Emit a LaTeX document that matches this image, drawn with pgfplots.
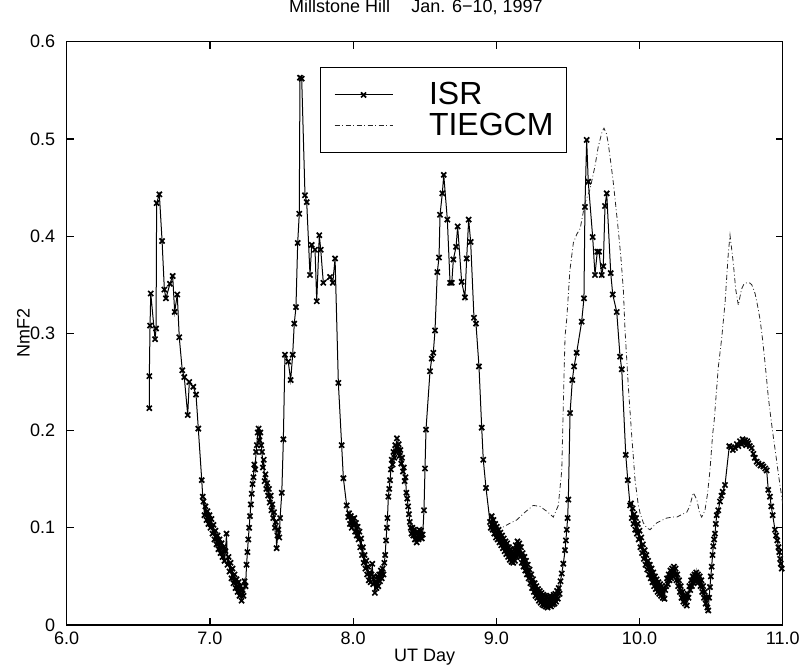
\documentclass[border=0pt]{standalone}
\usepackage{fontspec}
\setmainfont{Liberation Sans}
\usepackage{pgfplots}
\usepackage{pgfplotstable}
\pgfplotsset{compat=1.18}

\pgfplotstableread{
x y
6.577 0.223
6.577 0.256
6.582 0.308
6.587 0.341
6.617 0.294
6.624 0.305
6.628 0.434
6.647 0.443
6.666 0.395
6.682 0.345
6.693 0.336
6.721 0.351
6.740 0.359
6.754 0.322
6.772 0.340
6.786 0.296
6.807 0.262
6.821 0.255
6.845 0.216
6.856 0.250
6.884 0.245
6.903 0.237
6.919 0.202
6.943 0.149
6.950 0.132
6.955 0.127
6.962 0.113
6.969 0.122
6.976 0.108
6.983 0.117
6.990 0.104
6.997 0.113
7.004 0.100
7.011 0.109
7.018 0.094
7.025 0.103
7.032 0.088
7.039 0.097
7.046 0.083
7.053 0.092
7.060 0.078
7.067 0.088
7.074 0.074
7.081 0.084
7.088 0.070
7.095 0.080
7.102 0.066
7.109 0.076
7.116 0.094
7.123 0.062
7.130 0.070
7.137 0.055
7.144 0.064
7.151 0.048
7.158 0.058
7.165 0.043
7.172 0.052
7.179 0.038
7.186 0.047
7.193 0.034
7.200 0.044
7.207 0.030
7.214 0.040
7.221 0.025
7.228 0.036
7.235 0.030
7.242 0.045
7.249 0.040
7.256 0.062
7.262 0.075
7.268 0.088
7.274 0.100
7.280 0.112
7.286 0.124
7.292 0.135
7.298 0.145
7.304 0.152
7.310 0.165
7.316 0.160
7.322 0.178
7.328 0.185
7.334 0.198
7.340 0.202
7.346 0.190
7.352 0.198
7.358 0.185
7.364 0.178
7.370 0.162
7.376 0.170
7.382 0.148
7.388 0.155
7.394 0.140
7.400 0.146
7.406 0.133
7.412 0.140
7.418 0.126
7.424 0.133
7.430 0.118
7.436 0.124
7.442 0.110
7.448 0.116
7.454 0.100
7.460 0.106
7.466 0.079
7.472 0.092
7.478 0.098
7.484 0.090
7.490 0.110
7.502 0.136
7.513 0.191
7.524 0.278
7.547 0.271
7.564 0.252
7.578 0.278
7.589 0.310
7.601 0.327
7.613 0.393
7.624 0.423
7.629 0.563
7.641 0.562
7.664 0.442
7.676 0.435
7.699 0.360
7.711 0.391
7.734 0.386
7.746 0.333
7.764 0.401
7.774 0.386
7.792 0.352
7.839 0.358
7.858 0.352
7.874 0.377
7.897 0.249
7.920 0.185
7.932 0.151
7.955 0.123
7.966 0.111
7.972 0.115
7.978 0.104
7.984 0.112
7.990 0.100
7.996 0.109
8.002 0.103
8.008 0.110
8.014 0.096
8.020 0.105
8.026 0.092
8.032 0.101
8.038 0.088
8.044 0.096
8.050 0.080
8.056 0.089
8.062 0.072
8.068 0.080
8.074 0.064
8.080 0.072
8.086 0.058
8.092 0.066
8.098 0.052
8.104 0.060
8.110 0.046
8.116 0.054
8.122 0.044
8.128 0.052
8.134 0.063
8.140 0.042
8.146 0.050
8.152 0.033
8.158 0.045
8.164 0.038
8.170 0.050
8.176 0.040
8.182 0.052
8.188 0.045
8.194 0.056
8.200 0.048
8.206 0.058
8.212 0.052
8.218 0.064
8.224 0.072
8.230 0.087
8.236 0.100
8.240 0.110
8.246 0.132
8.252 0.140
8.258 0.149
8.264 0.160
8.270 0.170
8.276 0.165
8.282 0.178
8.288 0.172
8.294 0.185
8.300 0.178
8.306 0.192
8.312 0.180
8.318 0.186
8.324 0.174
8.330 0.180
8.336 0.166
8.342 0.172
8.348 0.158
8.354 0.162
8.360 0.148
8.366 0.152
8.372 0.136
8.378 0.130
8.384 0.122
8.390 0.114
8.396 0.106
8.402 0.100
8.408 0.094
8.414 0.100
8.420 0.092
8.426 0.098
8.432 0.088
8.438 0.094
8.444 0.085
8.450 0.096
8.456 0.088
8.462 0.098
8.468 0.090
8.474 0.097
8.480 0.089
8.486 0.093
8.495 0.118
8.502 0.161
8.509 0.201
8.537 0.261
8.549 0.274
8.560 0.280
8.572 0.303
8.588 0.363
8.600 0.378
8.607 0.422
8.623 0.444
8.633 0.463
8.658 0.417
8.677 0.352
8.689 0.352
8.700 0.376
8.719 0.389
8.730 0.410
8.758 0.353
8.781 0.337
8.793 0.377
8.807 0.417
8.821 0.394
8.844 0.316
8.858 0.310
8.879 0.266
8.898 0.203
8.909 0.170
8.928 0.141
8.956 0.106
8.962 0.100
8.968 0.112
8.974 0.098
8.980 0.108
8.986 0.094
8.992 0.104
8.998 0.090
9.004 0.101
9.010 0.088
9.016 0.098
9.022 0.085
9.028 0.095
9.034 0.082
9.040 0.092
9.046 0.079
9.052 0.089
9.058 0.076
9.064 0.086
9.070 0.073
9.076 0.084
9.082 0.070
9.088 0.080
9.094 0.067
9.100 0.078
9.106 0.065
9.112 0.076
9.118 0.064
9.124 0.078
9.130 0.066
9.136 0.082
9.142 0.070
9.148 0.086
9.154 0.072
9.160 0.084
9.166 0.070
9.172 0.080
9.178 0.064
9.184 0.074
9.190 0.060
9.196 0.070
9.202 0.056
9.208 0.066
9.214 0.052
9.220 0.062
9.226 0.048
9.232 0.057
9.238 0.043
9.244 0.052
9.250 0.038
9.256 0.047
9.262 0.034
9.268 0.043
9.274 0.030
9.280 0.040
9.286 0.028
9.292 0.037
9.298 0.025
9.304 0.035
9.310 0.023
9.316 0.033
9.322 0.021
9.328 0.031
9.334 0.020
9.340 0.030
9.346 0.019
9.352 0.029
9.358 0.018
9.364 0.028
9.370 0.020
9.376 0.030
9.382 0.019
9.388 0.029
9.394 0.021
9.400 0.031
9.406 0.022
9.412 0.032
9.418 0.024
9.424 0.035
9.430 0.027
9.436 0.038
9.442 0.032
9.448 0.045
9.457 0.053
9.468 0.063
9.480 0.077
9.486 0.087
9.492 0.098
9.498 0.110
9.503 0.129
9.515 0.218
9.531 0.252
9.543 0.266
9.561 0.280
9.596 0.312
9.612 0.336
9.619 0.430
9.631 0.499
9.642 0.456
9.673 0.399
9.689 0.360
9.705 0.384
9.717 0.384
9.736 0.360
9.747 0.369
9.759 0.431
9.771 0.444
9.799 0.362
9.813 0.340
9.841 0.322
9.864 0.276
9.876 0.263
9.904 0.175
9.918 0.149
9.934 0.123
9.940 0.125
9.946 0.110
9.952 0.120
9.958 0.104
9.964 0.114
9.970 0.098
9.976 0.110
9.982 0.094
9.988 0.104
9.994 0.088
10.000 0.097
10.006 0.080
10.012 0.090
10.018 0.074
10.024 0.083
10.030 0.068
10.036 0.077
10.042 0.062
10.048 0.072
10.054 0.057
10.060 0.066
10.066 0.052
10.072 0.062
10.078 0.048
10.084 0.058
10.090 0.044
10.096 0.054
10.102 0.040
10.108 0.050
10.114 0.037
10.120 0.047
10.126 0.034
10.132 0.044
10.138 0.032
10.144 0.042
10.150 0.030
10.156 0.040
10.162 0.028
10.168 0.038
10.174 0.027
10.180 0.036
10.186 0.040
10.192 0.048
10.198 0.042
10.204 0.052
10.210 0.046
10.216 0.056
10.222 0.048
10.228 0.058
10.234 0.050
10.240 0.060
10.246 0.052
10.252 0.058
10.258 0.046
10.264 0.052
10.270 0.040
10.276 0.046
10.282 0.034
10.288 0.040
10.294 0.028
10.300 0.034
10.306 0.024
10.312 0.030
10.318 0.022
10.324 0.028
10.330 0.020
10.336 0.032
10.342 0.028
10.348 0.040
10.354 0.036
10.360 0.046
10.366 0.040
10.372 0.050
10.378 0.043
10.384 0.052
10.390 0.045
10.396 0.054
10.402 0.046
10.408 0.052
10.414 0.044
10.420 0.050
10.426 0.040
10.432 0.046
10.438 0.034
10.444 0.040
10.450 0.028
10.456 0.034
10.462 0.022
10.468 0.028
10.474 0.018
10.480 0.015
10.486 0.028
10.492 0.039
10.498 0.050
10.504 0.060
10.510 0.072
10.515 0.081
10.521 0.088
10.527 0.094
10.533 0.104
10.539 0.113
10.550 0.118
10.562 0.127
10.572 0.133
10.581 0.137
10.597 0.144
10.627 0.184
10.640 0.183
10.652 0.180
10.667 0.182
10.680 0.186
10.690 0.184
10.702 0.189
10.712 0.186
10.720 0.191
10.728 0.187
10.737 0.190
10.745 0.185
10.752 0.189
10.760 0.187
10.770 0.184
10.783 0.182
10.795 0.176
10.805 0.172
10.818 0.168
10.830 0.166
10.845 0.164
10.855 0.165
10.865 0.163
10.878 0.161
10.888 0.159
10.899 0.139
10.911 0.132
10.920 0.122
10.930 0.113
10.946 0.098
10.954 0.092
10.962 0.087
10.970 0.080
10.976 0.075
10.982 0.068
10.986 0.063
10.993 0.058
}\isr

\pgfplotstableread{
x y
9.000 0.097
9.049 0.101
9.100 0.105
9.142 0.108
9.200 0.116
9.258 0.123
9.305 0.122
9.352 0.117
9.398 0.111
9.433 0.123
9.457 0.159
9.468 0.228
9.480 0.297
9.492 0.315
9.514 0.365
9.538 0.393
9.562 0.402
9.586 0.408
9.619 0.434
9.654 0.448
9.689 0.472
9.712 0.492
9.740 0.508
9.752 0.511
9.770 0.505
9.782 0.495
9.800 0.475
9.817 0.455
9.835 0.430
9.852 0.406
9.870 0.378
9.887 0.345
9.899 0.303
9.922 0.245
9.946 0.194
9.969 0.149
9.990 0.125
10.004 0.115
10.027 0.105
10.050 0.100
10.073 0.098
10.100 0.102
10.120 0.105
10.160 0.108
10.190 0.110
10.230 0.111
10.260 0.111
10.300 0.114
10.330 0.116
10.350 0.122
10.376 0.136
10.400 0.129
10.420 0.115
10.434 0.111
10.445 0.114
10.457 0.118
10.475 0.135
10.492 0.159
10.510 0.195
10.522 0.211
10.550 0.265
10.574 0.295
10.597 0.331
10.620 0.382
10.632 0.401
10.645 0.385
10.655 0.372
10.672 0.345
10.690 0.329
10.702 0.338
10.714 0.346
10.730 0.351
10.749 0.352
10.768 0.352
10.784 0.350
10.807 0.341
10.825 0.328
10.842 0.314
10.860 0.293
10.877 0.269
10.899 0.235
10.917 0.213
10.934 0.194
10.952 0.175
10.969 0.156
10.985 0.140
11.000 0.125
}\tiegcm

\begin{document}
\begin{tikzpicture}
\begin{axis}[
  name=ax,
  scale only axis,
  width=358pt, height=291.65pt,
  xmin=6, xmax=11, ymin=0, ymax=0.6,
  xtick={6,7,8,9,10,11},
  ytick={0,0.1,0.2,0.3,0.4,0.5,0.6},
  tick align=inside,
  xtick pos=both, ytick pos=both,
  xticklabel pos=bottom, yticklabel pos=left,
  major tick length=3.5pt,
  axis line style={line width=0.6pt},
  every tick/.style={black, line width=0.6pt},
  /pgf/number format/assume math mode=true,
  ticklabel style={font=\fontsize{9}{10}\selectfont},
  xticklabel style={/pgf/number format/.cd, fixed, fixed zerofill, precision=1},
  yticklabel style={xshift=-2.3pt, /pgf/number format/.cd, fixed, precision=1},
  title={Millstone Hill\hspace{10.7pt}Jan. 6−10, 1997},
  title style={at={(axis description cs:0.4877,1.0303)}, anchor=base, font=\fontsize{9}{11}\selectfont, inner sep=0pt},
  xlabel={UT Day},
  xlabel style={at={(axis description cs:0.5,-0.0634)}, anchor=base, font=\fontsize{9}{10}\selectfont, inner sep=0pt},
  legend style={at={(axis description cs:0.3538,0.956)}, anchor=north west,
    draw=black, line width=0.5pt, font=\fontsize{16}{16}\selectfont,
    inner xsep=6.75pt, inner ysep=7.2pt, row sep=2.6pt, column sep=18pt,
    nodes={inner sep=0pt}},
  legend cell align=left,
  legend image code/.code={\draw[mark repeat=2,mark phase=2,#1] plot coordinates {(0pt,0pt) (14.5pt,0pt) (29pt,0pt)};},
]
\addplot[black, line width=0.5pt, mark=x, mark size=1.8pt, mark options={line width=0.85pt, solid}] table {\isr};
\addlegendentry{ISR}
\addplot[black!85, line width=0.4pt, dash pattern=on 2.5pt off 1.3pt on 0.4pt off 1.3pt] table {\tiegcm};
\addlegendentry{TIEGCM}
\end{axis}
\node[anchor=base, rotate=90, inner sep=0pt, font=\fontsize{9}{10}\selectfont] at ([xshift=-18.5pt]ax.west) {NmF2};
\pgfresetboundingbox
\path[use as bounding box] ([xshift=-33.35pt,yshift=-23pt]ax.south west) rectangle ([xshift=10.15pt,yshift=20.85pt]ax.north east);
\end{tikzpicture}
\end{document}
